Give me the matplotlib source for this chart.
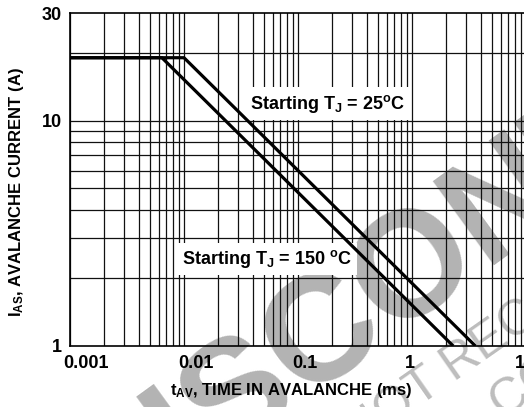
import numpy as np
import matplotlib
matplotlib.use("Agg")
import matplotlib.pyplot as plt
import matplotlib.transforms as mtransforms
from matplotlib.ticker import FixedLocator, NullLocator

plt.rcParams['font.family'] = ['Liberation Sans', 'DejaVu Sans']
plt.rcParams['font.weight'] = 'bold'
plt.rcParams['mathtext.fontset'] = 'custom'
plt.rcParams['mathtext.rm'] = 'Liberation Sans:bold'
plt.rcParams['mathtext.it'] = 'Liberation Sans:bold'
plt.rcParams['mathtext.bf'] = 'Liberation Sans:bold'

# ---- data ----
t_25 = [0.001, 0.01, 3.6]
i_25 = [19, 19, 1]
t_150 = [0.001, 0.0064, 2.3]
i_150 = [19, 19, 1]
x_ticks = [0.001, 0.01, 0.1, 1, 10]
x_tick_labels = ['0.001', '0.01', '0.1', '1', '10']
y_ticks = [1, 10, 30]
y_tick_labels = ['1', '10', '30']
label_25 = r'Starting T$_{J}$ = 25$^{o}$C'
label_150 = r'Starting T$_{J}$ = 150 $^{o}$C'

W, H = 524, 407
fig = plt.figure(figsize=(W / 100, H / 100), dpi=100)
fig.patch.set_facecolor('white')

# axes extends past the right edge of the figure (cropped original)
left, right, top, bottom = 70, 640, 13, 346
ax = fig.add_axes([left / W, (H - bottom) / H, (right - left) / W, (bottom - top) / H])
ax.patch.set_facecolor('none')
ax.set_xscale('log')
ax.set_yscale('log')
ax.set_xlim(0.001, 100)
ax.set_ylim(1, 30)

# grid
xgrid = [m * 10.0 ** e for e in range(-3, 2) for m in range(1, 10)]
ygrid = [2, 3, 4, 5, 6, 7, 8, 9, 10, 20]
for xv in xgrid:
    ax.axvline(xv, color='#111111', lw=0.9, zorder=1)
for yv in ygrid:
    ax.axhline(yv, color='#111111', lw=0.9, zorder=1)

for s in ['left', 'top', 'bottom']:
    ax.spines[s].set_linewidth(1.2)
ax.spines['right'].set_visible(False)

ax.plot(t_25, i_25, color='black', lw=2.3, zorder=4, solid_capstyle='butt')
ax.plot(t_150, i_150, color='black', lw=2.3, zorder=4, solid_capstyle='butt')

box = dict(boxstyle='square,pad=0.28', fc='white', ec='none')
ax.text(0.038, 11.9, label_25, fontsize=13, fontweight='bold', ha='left',
        va='center', bbox=box, zorder=3)
ax.text(0.0096, 2.44, label_150, fontsize=13, fontweight='bold', ha='left',
        va='center', bbox=box, zorder=3)

# ticks
ax.xaxis.set_major_locator(NullLocator())
ax.xaxis.set_minor_locator(NullLocator())
ax.yaxis.set_major_locator(FixedLocator(y_ticks))
ax.yaxis.set_minor_locator(NullLocator())
ax.set_yticklabels(y_tick_labels)
ax.tick_params(axis='y', length=0, pad=6, labelsize=13)
for lab in ax.get_yticklabels():
    lab.set_fontweight('bold')

x_offsets_px = [16, 12, 7, -2, -1]
for xv, txt, dx in zip(x_ticks, x_tick_labels, x_offsets_px):
    tr = mtransforms.blended_transform_factory(ax.transData, ax.transAxes) + \
        mtransforms.ScaledTranslation(dx / 100, -18 / 100, fig.dpi_scale_trans)
    ax.text(xv, 0, txt, transform=tr, ha='center', va='center', fontsize=13,
            fontweight='bold', clip_on=False)

fig.text(291 / W, (H - 390) / H, r't$_{AV}$, TIME IN AVALANCHE (ms)', ha='center',
         va='center', fontsize=12, fontweight='bold')
fig.text(17 / W, (H - 192) / H, r'I$_{AS}$, AVALANCHE CURRENT (A)', ha='center',
         va='center', rotation=90, fontsize=12, fontweight='bold')

# watermark
fig.text(100 / W, (H - 544) / H, 'DISCONTINUED', rotation=36, rotation_mode='anchor',
         ha='left', va='baseline', fontsize=108, fontweight='bold', color='#b3b3b3',
         zorder=-1)
fig.text(357 / W, (H - 450) / H, 'NOT RECOMMENDED FOR NEW DESIGN', rotation=35,
         rotation_mode='anchor', ha='left', va='baseline', fontsize=36,
         fontweight='normal', color='#bdbdbd', zorder=-1)
fig.text(503 / W, (H - 420) / H, 'CONTACT SALES', rotation=35,
         rotation_mode='anchor', ha='left', va='baseline', fontsize=36,
         fontweight='normal', color='#bdbdbd', zorder=-1)

fig.savefig('out.png', dpi=100)
